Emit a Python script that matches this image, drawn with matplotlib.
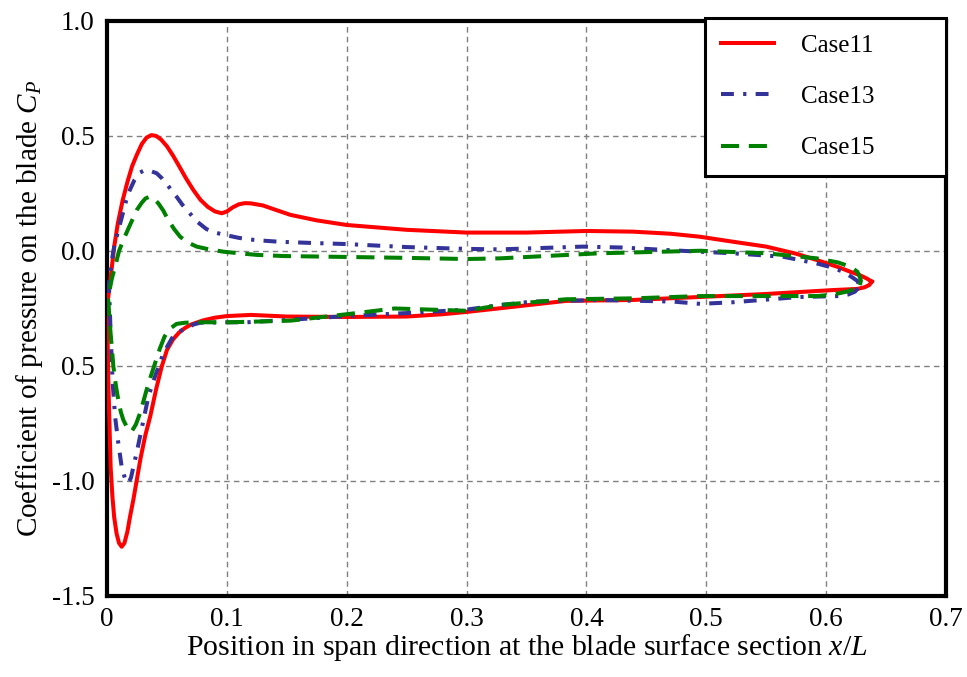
import matplotlib
matplotlib.use("Agg")
import matplotlib.pyplot as plt

# ---- data ----
# Case11 upper branch (leading edge -> trailing edge)
c11_up_x = [0.0, 0.001, 0.002, 0.004, 0.006, 0.009, 0.013, 0.017, 0.021, 0.025, 0.029, 0.033, 0.037, 0.041, 0.045,
            0.050, 0.055, 0.060, 0.066, 0.072, 0.078, 0.084, 0.090, 0.0957, 0.100, 0.105, 0.110, 0.115, 0.120, 0.130,
            0.140, 0.153, 0.175, 0.2, 0.25, 0.3, 0.35, 0.4, 0.439, 0.47, 0.4946, 0.52, 0.55, 0.575, 0.592, 0.61,
            0.62, 0.628, 0.634, 0.638]
c11_up_y = [-0.25, -0.2, -0.16, -0.07, 0.02, 0.12, 0.22, 0.30, 0.37, 0.42, 0.465, 0.493, 0.504, 0.500, 0.485,
            0.455, 0.415, 0.37, 0.315, 0.265, 0.222, 0.192, 0.172, 0.164, 0.172, 0.19, 0.203, 0.208, 0.207, 0.198,
            0.18, 0.157, 0.133, 0.113, 0.092, 0.08, 0.08, 0.087, 0.084, 0.075, 0.062, 0.042, 0.019, -0.012, -0.039, -0.07,
            -0.09, -0.105, -0.12, -0.133]
# Case11 lower branch
c11_lo_x = [0.0, 0.0003, 0.001, 0.002, 0.003, 0.0045, 0.006, 0.008, 0.010, 0.0122, 0.0145, 0.017, 0.019, 0.022, 0.0248,
            0.028, 0.032, 0.036, 0.041, 0.0456, 0.050, 0.055, 0.060, 0.065, 0.070, 0.080, 0.090,
            0.1, 0.12, 0.15, 0.2, 0.25, 0.28, 0.3, 0.328, 0.383, 0.439, 0.4946, 0.55, 0.6055, 0.626, 0.632, 0.636, 0.638]
c11_lo_y = [-0.25, -0.357, -0.55, -0.75, -0.94, -1.07, -1.16, -1.23, -1.27, -1.286, -1.27, -1.22, -1.16, -1.08, -0.996,
            -0.9, -0.8, -0.72, -0.6, -0.503, -0.43, -0.385, -0.355, -0.335, -0.32, -0.302, -0.29,
            -0.283, -0.278, -0.285, -0.287, -0.285, -0.275, -0.265, -0.249, -0.217, -0.213, -0.20, -0.187, -0.17, -0.165, -0.158, -0.148, -0.133]

# Case13 upper branch
c13_up_x = [0.0015, 0.003, 0.006, 0.0094, 0.013, 0.016, 0.019, 0.023, 0.027, 0.031, 0.035, 0.0414, 0.046, 0.050, 0.054,
            0.058, 0.063, 0.069, 0.075, 0.083, 0.09, 0.1, 0.11, 0.119, 0.13, 0.144, 0.17,
            0.2, 0.25, 0.3, 0.328, 0.397, 0.43, 0.467, 0.522, 0.564, 0.592, 0.605, 0.614, 0.621, 0.626, 0.627]
c13_up_y = [-0.15, -0.07, 0.02, 0.09, 0.16, 0.22, 0.265, 0.31, 0.34, 0.35, 0.35, 0.338, 0.315, 0.29, 0.262,
            0.236, 0.2, 0.164, 0.128, 0.095, 0.08, 0.068, 0.057, 0.05, 0.045, 0.04, 0.035,
            0.03, 0.017, 0.009, 0.007, 0.019, 0.015, 0.004, -0.01, -0.025, -0.054, -0.072, -0.09, -0.112, -0.13, -0.141]
# Case13 lower branch
c13_lo_x = [0.0015, 0.002, 0.003, 0.0047, 0.0067, 0.0094, 0.0122, 0.015, 0.0178, 0.020, 0.022, 0.025, 0.0275, 0.031,
            0.0345, 0.040, 0.047, 0.055, 0.060, 0.066, 0.072, 0.0776, 0.1, 0.1165, 0.15, 0.2, 0.25, 0.3, 0.328, 0.355,
            0.411, 0.472, 0.495, 0.522, 0.578, 0.611, 0.618, 0.624, 0.627, 0.627]
c13_lo_y = [-0.15, -0.213, -0.357, -0.575, -0.72, -0.836, -0.938, -0.99, -1.01, -0.985, -0.938, -0.87, -0.807, -0.72,
            -0.633, -0.546, -0.445, -0.372, -0.35, -0.337, -0.32, -0.312, -0.31, -0.31, -0.30, -0.283, -0.27, -0.255, -0.235, -0.22,
            -0.213, -0.22, -0.23, -0.223, -0.2, -0.196, -0.19, -0.177, -0.16, -0.141]

# Case15 upper branch
c15_up_x = [0.0005, 0.001, 0.004, 0.0067, 0.010, 0.0136, 0.018, 0.0248, 0.029, 0.032, 0.0353, 0.039, 0.0428, 0.047,
            0.051, 0.056, 0.061, 0.067, 0.0748, 0.085, 0.097, 0.11, 0.125, 0.147,
            0.2, 0.25, 0.3, 0.328, 0.411, 0.495, 0.55, 0.592, 0.61, 0.62, 0.626, 0.628, 0.629, 0.628]
c15_up_y = [-0.21, -0.2, -0.12, -0.068, 0.0, 0.048, 0.1, 0.178, 0.21, 0.228, 0.236, 0.228, 0.207, 0.175,
            0.135, 0.095, 0.062, 0.038, 0.019, 0.007, -0.003, -0.01, -0.017, -0.022,
            -0.026, -0.03, -0.035, -0.032, -0.01, 0.001, -0.01, -0.032, -0.05, -0.068, -0.09, -0.112, -0.13, -0.148]
# Case15 lower branch
c15_lo_x = [0.0005, 0.001, 0.0025, 0.0053, 0.0075, 0.0094, 0.0115, 0.0136, 0.017, 0.0205, 0.024, 0.0275, 0.030, 0.033,
            0.0365, 0.040, 0.044, 0.048, 0.052, 0.058, 0.065, 0.075, 0.1026,
            0.153, 0.2, 0.24, 0.27, 0.3, 0.328, 0.35, 0.383, 0.439, 0.495, 0.55, 0.592, 0.605, 0.617, 0.624, 0.628]
c15_lo_y = [-0.21, -0.213, -0.329, -0.503, -0.59, -0.648, -0.7, -0.735, -0.77, -0.785, -0.755, -0.706, -0.66, -0.604,
            -0.545, -0.489, -0.425, -0.372, -0.34, -0.317, -0.312, -0.31, -0.31,
            -0.303, -0.275, -0.25, -0.255, -0.26, -0.235, -0.225, -0.21, -0.206, -0.196, -0.196, -0.196, -0.19, -0.177, -0.165, -0.148]

labels = ["Case11", "Case13", "Case15"]
x_ticks = [0, 0.1, 0.2, 0.3, 0.4, 0.5, 0.6, 0.7]
x_tick_labels = ["0", "0.1", "0.2", "0.3", "0.4", "0.5", "0.6", "0.7"]
y_ticks = [1.0, 0.5, 0.0, -0.5, -1.0, -1.5]
y_tick_labels = ["1.0", "0.5", "0.0", "0.5", "-1.0", "-1.5"]

plt.rcParams['font.family'] = ['Liberation Serif', 'DejaVu Serif']
plt.rcParams['mathtext.fontset'] = 'custom'
plt.rcParams['mathtext.it'] = 'Liberation Serif:italic'
plt.rcParams['mathtext.rm'] = 'Liberation Serif'

fig = plt.figure(figsize=(9.67, 6.77), dpi=100)
ax = fig.add_axes([0.1107, 0.1197, 0.8676, 0.8493])

def loop(ux, uy, lx, ly):
    return list(ux[::-1]) + list(lx), list(uy[::-1]) + list(ly)

x11, y11 = loop(c11_up_x, c11_up_y, c11_lo_x, c11_lo_y)
x13, y13 = loop(c13_up_x, c13_up_y, c13_lo_x, c13_lo_y)
x15, y15 = loop(c15_up_x, c15_up_y, c15_lo_x, c15_lo_y)

ax.plot(x11, y11, color='#ff0000', lw=2.9, label=labels[0], solid_joinstyle='round', zorder=3)
ax.plot(x13, y13, color='#333399', lw=2.9, dashes=(3.2, 2.3, 0.8, 2.3), dash_capstyle='butt', label=labels[1], zorder=4)
ax.plot(x15, y15, color='#008000', lw=2.9, dashes=(4.5, 2.4), dash_capstyle='butt', label=labels[2], zorder=5)

ax.set_xlim(0, 0.7)
ax.set_ylim(-1.5, 1.0)
ax.set_xticks(x_ticks)
ax.set_xticklabels(x_tick_labels)
ax.set_yticks(y_ticks)
ax.set_yticklabels(y_tick_labels)
ax.tick_params(length=0, labelsize=19.5)
ax.tick_params(axis='y', pad=9)
ax.tick_params(axis='x', pad=8)
ax.grid(True, color='#808080', ls=(0, (4, 3)), lw=1.0)
for s in ax.spines.values():
    s.set_linewidth(3)
    s.set_color('black')

ax.set_xlabel("Position in span direction at the blade surface section $x/L$", fontsize=21.5, labelpad=0)
ax.set_ylabel("Coefficient of pressure on the blade $C_P$", fontsize=21, labelpad=5)

leg = ax.legend(loc='upper left', bbox_to_anchor=(0.713, 0.0, 0.287, 1.005), mode='expand', fontsize=18,
                frameon=True, fancybox=False, handlelength=2.1, handletextpad=1.1, borderpad=0.65,
                labelspacing=1.15, borderaxespad=0.0)
leg.get_frame().set_edgecolor('black')
leg.get_frame().set_linewidth(2.2)
leg.get_frame().set_alpha(1)

fig.savefig("out.png", dpi=100)
